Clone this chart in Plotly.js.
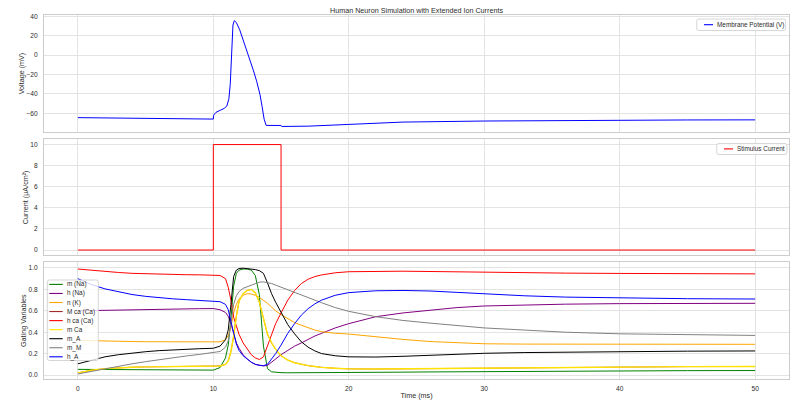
<!DOCTYPE html>
<html>
<head>
<meta charset="utf-8">
<script src="https://cdn.plot.ly/plotly-3.0.1.min.js"></script>
<style>html,body{margin:0;padding:0;background:#fff;}#chart{width:800px;height:406px;}</style>
</head>
<body>
<div id="chart"></div>
<script>
// ---------- DATA ----------
const chartTitle = "Human Neuron Simulation with Extended Ion Currents";

const vTime = [0,2,5,8,10,10.02,10.2,10.5,10.8,11.0,11.15,11.25,11.35,11.45,11.55,11.7,11.95,12.2,12.45,12.7,12.95,13.2,13.45,13.6,13.75,13.9,14.2,15.0,15.05,17,20,24,30,35,40,45,50];
const voltage = [-64.5,-64.9,-65.4,-65.8,-66.0,-62,-59,-57,-55,-52.5,-45,-30,12,31,35.5,33.5,26,16,5.3,-5,-15.5,-27,-41,-53,-66,-72.5,-72.6,-72.6,-73.6,-73.3,-71.5,-69.1,-68,-67.4,-67.1,-66.9,-66.8];

const stimTime = [0,10,10,15,15,50];
const stimCurrent = [0,0,10,10,0,0];

const gTime = [0,1,2,3,4,5,6,7,8,9,10,10.5,10.9,11.1,11.3,11.5,11.7,11.9,12.2,12.5,12.8,13.1,13.4,13.7,14.0,14.3,14.6,15.0,15.5,16,16.5,17,17.5,18,19,20,22,24,26,28,30,33,36,40,45,50];
const mNa = [0.053,0.052,0.051,0.050,0.050,0.049,0.048,0.048,0.047,0.047,0.046,0.07,0.16,0.28,0.52,0.83,0.95,0.98,0.99,0.99,0.98,0.93,0.75,0.27,0.06,0.03,0.025,0.022,0.021,0.021,0.021,0.021,0.022,0.022,0.022,0.023,0.025,0.027,0.029,0.031,0.033,0.035,0.037,0.039,0.041,0.042];
const hNa = [0.600,0.603,0.606,0.608,0.610,0.612,0.614,0.616,0.618,0.620,0.621,0.61,0.585,0.55,0.48,0.38,0.30,0.25,0.19,0.15,0.12,0.10,0.09,0.085,0.09,0.12,0.15,0.19,0.23,0.27,0.30,0.335,0.365,0.39,0.44,0.48,0.545,0.58,0.605,0.63,0.645,0.655,0.662,0.667,0.669,0.67];
const nK = [0.324,0.320,0.317,0.315,0.313,0.311,0.310,0.309,0.308,0.307,0.306,0.31,0.33,0.37,0.45,0.58,0.66,0.71,0.745,0.76,0.757,0.745,0.725,0.70,0.67,0.635,0.60,0.565,0.525,0.49,0.465,0.44,0.42,0.405,0.39,0.383,0.355,0.333,0.313,0.30,0.292,0.289,0.288,0.288,0.287,0.287];
const mCa = [0.02,0.045,0.06,0.068,0.073,0.076,0.078,0.080,0.081,0.082,0.083,0.085,0.10,0.13,0.22,0.36,0.55,0.69,0.76,0.79,0.80,0.77,0.68,0.54,0.38,0.30,0.24,0.18,0.14,0.115,0.10,0.088,0.08,0.072,0.063,0.058,0.056,0.058,0.062,0.065,0.068,0.072,0.075,0.077,0.079,0.08];
const MCaCap = mCa.slice();
const hCa = [0.99,0.978,0.968,0.958,0.95,0.945,0.941,0.938,0.937,0.936,0.935,0.93,0.90,0.82,0.70,0.54,0.46,0.38,0.30,0.24,0.19,0.16,0.145,0.17,0.27,0.38,0.48,0.58,0.70,0.79,0.855,0.895,0.92,0.935,0.955,0.965,0.97,0.97,0.967,0.963,0.96,0.955,0.952,0.949,0.947,0.945];
const mA = [0.105,0.14,0.17,0.19,0.205,0.218,0.228,0.236,0.242,0.246,0.25,0.27,0.33,0.42,0.66,0.92,0.98,0.995,0.998,0.995,0.99,0.985,0.975,0.95,0.86,0.76,0.68,0.58,0.47,0.385,0.31,0.26,0.225,0.20,0.18,0.17,0.168,0.175,0.185,0.195,0.203,0.21,0.215,0.22,0.223,0.225];
const mM = [0.01,0.035,0.06,0.085,0.105,0.125,0.145,0.16,0.178,0.193,0.21,0.22,0.26,0.32,0.48,0.66,0.74,0.78,0.81,0.825,0.845,0.86,0.868,0.87,0.865,0.855,0.84,0.82,0.795,0.77,0.745,0.72,0.695,0.675,0.63,0.595,0.545,0.51,0.485,0.46,0.44,0.42,0.40,0.385,0.375,0.37];
const hA = [0.90,0.845,0.805,0.775,0.752,0.735,0.722,0.712,0.704,0.698,0.693,0.685,0.66,0.61,0.50,0.38,0.29,0.23,0.18,0.15,0.12,0.10,0.09,0.088,0.10,0.15,0.20,0.28,0.39,0.48,0.56,0.62,0.665,0.70,0.745,0.77,0.787,0.79,0.785,0.772,0.757,0.74,0.728,0.72,0.713,0.71];

const gatingNames = ["m (Na)","h (Na)","n (K)","M ca (Ca)","h ca (Ca)","m Ca","m_A","m_M","h_A"];
const gatingSeries = [mNa,hNa,nK,MCaCap,hCa,mCa,mA,mM,hA];
const gatingColors = ["#008000","#800080","#ffa500","#a52a2a","#ff0000","#ffe400","#000000","#808080","#0000ff"];
const gatingWidths = [1,1,1,0.8,1,1.4,1,1,1];

const xTicks = [0,10,20,30,40,50];

// ---------- LAYOUT HELPERS ----------
const W = 800, H = 406, L = 44, R = 11, T = 15, B = 27;
const PW = W - L - R, PH = H - T - B;
const px = x => (x - L) / PW;
const py = y => (H - B - y) / PH;
const FONT = "Liberation Sans, Arial, sans-serif";
const TXT = "#2b2b2b";

function rrect(x0, y0, x1, y1, r) {
  const P = (x, y) => px(x).toFixed(5) + "," + py(y).toFixed(5);
  return "M" + P(x0 + r, y0) + " L" + P(x1 - r, y0) + " Q" + P(x1, y0) + " " + P(x1, y0 + r) +
    " L" + P(x1, y1 - r) + " Q" + P(x1, y1) + " " + P(x1 - r, y1) +
    " L" + P(x0 + r, y1) + " Q" + P(x0, y1) + " " + P(x0, y1 - r) +
    " L" + P(x0, y0 + r) + " Q" + P(x0, y0) + " " + P(x0 + r, y0) + " Z";
}

const shapes = [], annotations = [];
function legendBox(x0, y0, x1, y1) {
  shapes.push({type: "path", xref: "paper", yref: "paper", path: rrect(x0, y0, x1, y1, 2),
    fillcolor: "rgba(255,255,255,0.8)", line: {color: "#cccccc", width: 0.8}, layer: "above"});
}
function legendItem(lx0, lx1, tx, y, color, label) {
  shapes.push({type: "line", xref: "paper", yref: "paper", x0: px(lx0), x1: px(lx1), y0: py(y), y1: py(y),
    line: {color: color, width: 1.1}, layer: "above"});
  annotations.push({xref: "paper", yref: "paper", x: px(tx), y: py(y), xanchor: "left", yanchor: "middle",
    text: label, showarrow: false, borderpad: 0, borderwidth: 0, font: {family: FONT, size: 6.4, color: TXT}});
}

// top legend
legendBox(696.7, 19, 785.7, 30.5);
legendItem(704, 713, 717, 24.7, "#0000ff", "Membrane Potential (V)");
// middle legend
legendBox(716.7, 143.5, 787, 154.5);
legendItem(724, 733, 736.5, 148.9, "#ff0000", "Stimulus Current");
// bottom legend
legendBox(47.3, 280, 98.3, 360.5);
gatingNames.forEach((n, i) => legendItem(49.3, 62.7, 67, 284.4 + i * 9.05, gatingColors[i], n));

// ---------- TRACES ----------
const traces = [];
gatingNames.forEach((n, i) => traces.push({
  x: gTime, y: gatingSeries[i], name: n, type: "scatter", mode: "lines",
  line: {color: gatingColors[i], width: gatingWidths[i]}, xaxis: "x", yaxis: "y", showlegend: false
}));
traces.push({x: stimTime, y: stimCurrent, name: "Stimulus Current", type: "scatter", mode: "lines",
  line: {color: "#ff0000", width: 1}, xaxis: "x2", yaxis: "y2", showlegend: false});
traces.push({x: vTime, y: voltage, name: "Membrane Potential (V)", type: "scatter", mode: "lines",
  line: {color: "#0000ff", width: 1}, xaxis: "x3", yaxis: "y3", showlegend: false});

const axisBase = {
  showgrid: true, gridcolor: "#e3e3e3", gridwidth: 1, showline: true, mirror: true,
  linecolor: "#cccccc", linewidth: 1, zeroline: false, ticks: "",
  tickfont: {family: FONT, size: 6.6, color: TXT}
};
const xBase = Object.assign({}, axisBase, {range: [-2.5, 52.5], tickvals: xTicks, ticktext: xTicks.map(String)});
const yTitle = t => ({text: t, font: {family: FONT, size: 7.2, color: TXT}, standoff: 0});

const layout = {
  width: W, height: H, margin: {l: L, r: R, t: T, b: B, pad: 0},
  paper_bgcolor: "#ffffff", plot_bgcolor: "#ffffff",
  font: {family: FONT, color: TXT},
  title: {text: chartTitle, font: {family: FONT, size: 7.2, color: TXT}, xref: "paper", x: 0.5, xanchor: "center",
    yref: "container", y: 1 - 10 / H, yanchor: "middle"},
  xaxis: Object.assign({}, xBase, {anchor: "y", showticklabels: true, ticklabelstandoff: 3,
    title: {text: "Time (ms)", font: {family: FONT, size: 7.2, color: TXT}, standoff: 2}}),
  xaxis2: Object.assign({}, xBase, {anchor: "y2", matches: "x", showticklabels: false}),
  xaxis3: Object.assign({}, xBase, {anchor: "y3", matches: "x", showticklabels: false}),
  yaxis: Object.assign({}, axisBase, {domain: [0, 0.3206], range: [-0.037, 1.053], tickvals: [0,0.2,0.4,0.6,0.8,1.0],
    tickformat: ".1f", ticklabelstandoff: 4, title: yTitle("Gating Variables")}),
  yaxis2: Object.assign({}, axisBase, {domain: [0.3398, 0.6585], range: [-0.5, 10.5], tickvals: [0,2,4,6,8,10],
    ticklabelstandoff: 4, title: yTitle("Current (μA/cm²)")}),
  yaxis3: Object.assign({}, axisBase, {domain: [0.6786, 1], range: [-79.3, 41.3], tickvals: [-60,-40,-20,0,20,40],
    ticklabelstandoff: 4, title: yTitle("Voltage (mV)")}),
  shapes: shapes, annotations: annotations, showlegend: false
};

Plotly.newPlot("chart", traces, layout, {staticPlot: true, displayModeBar: false});
</script>
</body>
</html>
